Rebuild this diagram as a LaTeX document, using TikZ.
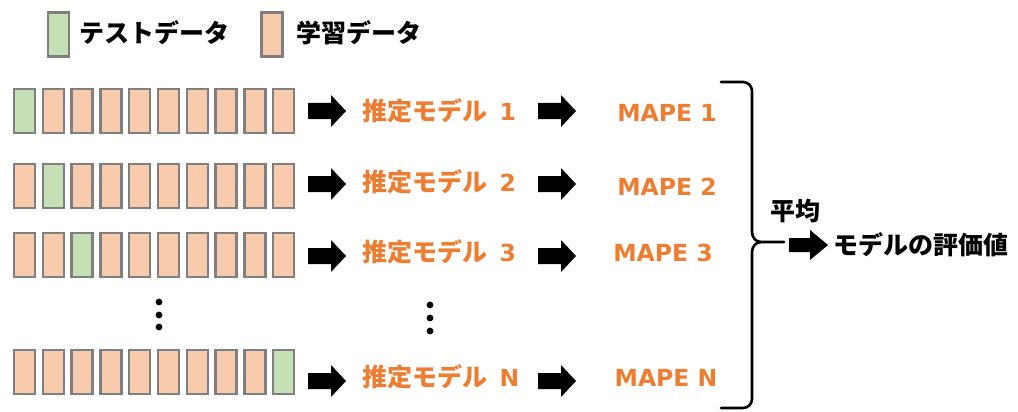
\documentclass[tikz,border=0pt]{standalone}
\usepackage{fontspec}
\newfontfamily\jp{Noto Sans CJK JP}
\newfontfamily\dv{DejaVu Sans}
\definecolor{tgreen}{HTML}{C5E0B4}
\definecolor{torange}{HTML}{F8CBAD}
\definecolor{cellgray}{HTML}{7F7F7F}
\definecolor{txtorange}{HTML}{ED7D31}
\tikzset{
  cell/.style={draw=cellgray, line width=2.3, minimum width=21, minimum height=44, inner sep=0},
  jt/.style={font=\jp\bfseries\fontsize{25}{29}\selectfont, inner sep=0, text=black},
  mt/.style={font=\jp\bfseries\fontsize{25}{29}\selectfont, inner sep=0, text=txtorange},
  mape/.style={font=\dv\bfseries\fontsize{23.5}{28}\selectfont, inner sep=0, text=txtorange},
  barrow/.pic={\fill[black] (0,-8)--(23,-8)--(23,-16)--(38,0)--(23,16)--(23,8)--(0,8)--cycle;},
  sarrow/.pic={\fill[black] (0,-7)--(21,-7)--(21,-15)--(39,0)--(21,15)--(21,7)--(0,7)--cycle;},
  dot/.style={fill=black, circle, inner sep=0, minimum size=6.8}
}
\begin{document}
\begin{tikzpicture}[x=1pt,y=1pt]
\useasboundingbox (0,0) rectangle (1018,-412);
% legend
\node[cell,fill=tgreen] (lg) at (58.5,-34.5) {};
\node[jt,anchor=west] (lgt) at (79,-33) {テストデータ};
\node[cell,fill=torange] (lo) at (272,-34.5) {};
\node[jt,anchor=west] (lot) at (296,-33) {学習データ};
% rows
\foreach \r/\yb/\g/\ya/\yt/\xm/\ym in {1/111/1/111/111/667/113, 2/186/2/184/182/667/187, 3/255/3/256/252/663/253, N/372/10/381/377/666/378}{
  \foreach \i in {1,...,10}{
    \ifnum\i=\g \def\fc{tgreen}\else\def\fc{torange}\fi
    \node[cell,fill=\fc] (b\r-\i) at ({24.5+(\i-1)*28.8},-\yb) {};
  }
  \pic at (308,-\ya) {barrow};
  \node[mt,anchor=west] (m\r) at (362,-\yt) {推定モデル\hspace{0.5em}{\dv\bfseries\fontsize{23.5}{28}\selectfont \r}};
  \pic at (538,-\ya) {barrow};
  \node[mape] (p\r) at (\xm,-\ym) {MAPE \r};
}
% dots
\node[dot] (d1) at (159,-302) {};
\node[dot] (d2) at (159,-315) {};
\node[dot] (d3) at (159,-327) {};
\node[dot] (e1) at (430,-305) {};
\node[dot] (e2) at (430,-318) {};
\node[dot] (e3) at (430,-331) {};
% brace
\draw[line width=2.6, line cap=round, line join=round]
  (721,-82) -- (743,-82) to[out=0,in=90] (752,-91) -- (752,-232)
  to[out=-90,in=180] (761,-242) -- (784,-242);
\draw[line width=2.6, line cap=round, line join=round]
  (761,-242) to[out=180,in=90] (752,-252) -- (752,-399)
  to[out=-90,in=0] (743,-408) -- (721,-408);
% average
\node[jt] (avg) at (795.5,-211) {平均};
\pic at (789,-245) {sarrow};
\node[jt,anchor=west] (res) at (833,-245) {モデルの評価値};
\end{tikzpicture}
\end{document}
